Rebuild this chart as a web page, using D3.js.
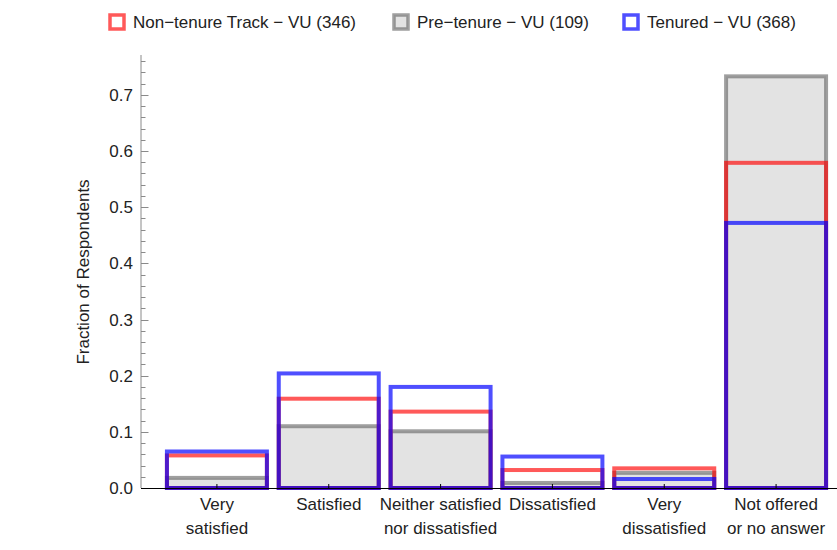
<!DOCTYPE html>
<html>
<head>
<meta charset="utf-8">
<script src="https://cdn.jsdelivr.net/npm/d3@7"></script>
<style>
  html, body { margin: 0; padding: 0; background: #fff; }
  svg { display: block; font-family: "Liberation Sans", Arial, sans-serif; }
</style>
</head>
<body>
<svg id="chart" width="837" height="550"></svg>
<script>
// ---- data ----
const categories = ["Very satisfied", "Satisfied", "Neither satisfied nor dissatisfied", "Dissatisfied", "Very dissatisfied", "Not offered or no answer"];
const categoryLines = [["Very", "satisfied"], ["Satisfied"], ["Neither satisfied", "nor dissatisfied"], ["Dissatisfied"], ["Very", "dissatisfied"], ["Not offered", "or no answer"]];
const seriesNames = ["Non\u2212tenure Track \u2212 VU (346)", "Pre\u2212tenure \u2212 VU (109)", "Tenured \u2212 VU (368)"];
const nonTenure = [0.058, 0.159, 0.136, 0.032, 0.035, 0.579];
const preTenure = [0.018, 0.110, 0.101, 0.009, 0.027, 0.733];
const tenured   = [0.065, 0.204, 0.180, 0.056, 0.016, 0.472];
const yTicks = [0.0, 0.1, 0.2, 0.3, 0.4, 0.5, 0.6, 0.7];

// ---- styles ----
const styles = [
  { stroke: "rgb(255,0,0)", strokeOpacity: 0.65, fill: "none" },
  { stroke: "rgb(100,100,100)", strokeOpacity: 0.62, fill: "#e3e3e3" },
  { stroke: "rgb(0,0,255)", strokeOpacity: 0.69, fill: "none" }
];
const series = [
  { name: seriesNames[0], values: nonTenure, style: styles[0], order: 1 },
  { name: seriesNames[1], values: preTenure, style: styles[1], order: 0 },
  { name: seriesNames[2], values: tenured, style: styles[2], order: 2 }
];

const svg = d3.select("#chart");
const FONT = 17;

const x = d3.scaleBand().domain(categories).range([161, 832]).paddingInner(0.106).paddingOuter(0.053);
const y = d3.scaleLinear().domain([0, 0.771]).range([488, 55]);

// bars: gray first, then red, then blue
const drawOrder = series.slice().sort((a, b) => a.order - b.order);
drawOrder.forEach(s => {
  svg.append("g").selectAll("rect")
    .data(categories.map((c, i) => ({ c, v: s.values[i] })))
    .join("rect")
    .attr("x", d => x(d.c))
    .attr("y", d => y(d.v))
    .attr("width", x.bandwidth())
    .attr("height", d => y(0) - y(d.v))
    .attr("fill", s.style.fill)
    .attr("stroke", s.style.stroke)
    .attr("stroke-opacity", s.style.strokeOpacity)
    .attr("stroke-width", 4);
});

// y axis
const yAxisG = svg.append("g").attr("transform", "translate(141,0)");
yAxisG.append("line").attr("x1", 0).attr("x2", 0).attr("y1", y(0)).attr("y2", 55)
  .attr("stroke", "#8a8a8a").attr("stroke-width", 1);
const minor = d3.range(0, 0.771, 0.02).filter(v => Math.abs(v * 10 - Math.round(v * 10)) > 1e-6);
yAxisG.selectAll("line.minor").data(minor).join("line").attr("class", "minor")
  .attr("x1", 0).attr("x2", 4.5).attr("y1", d => Math.round(y(d)) + 0.5).attr("y2", d => Math.round(y(d)) + 0.5)
  .attr("stroke", "#8a8a8a");
yAxisG.selectAll("line.major").data(yTicks).join("line").attr("class", "major")
  .attr("x1", 0).attr("x2", 7.5).attr("y1", d => Math.round(y(d)) + 0.5).attr("y2", d => Math.round(y(d)) + 0.5)
  .attr("stroke", "#8a8a8a");
yAxisG.selectAll("text").data(yTicks).join("text")
  .attr("x", -8).attr("y", d => y(d)).attr("dy", "0.36em")
  .attr("text-anchor", "end").attr("font-size", FONT).attr("fill", "#222")
  .text(d => d3.format(".1f")(d));

// y label
svg.append("text").attr("transform", "translate(89,272) rotate(-90)")
  .attr("text-anchor", "middle").attr("font-size", FONT).attr("fill", "#222")
  .text("Fraction of Respondents");

// x axis
svg.append("line").attr("x1", 141).attr("x2", 837).attr("y1", y(0) + 0.5).attr("y2", y(0) + 0.5)
  .attr("stroke", "#000").attr("stroke-width", 1.2);
svg.append("g").selectAll("line").data(categories).join("line")
  .attr("x1", d => x(d) + x.bandwidth() / 2).attr("x2", d => x(d) + x.bandwidth() / 2)
  .attr("y1", y(0)).attr("y2", y(0) - 4).attr("stroke", "#000");
const xl = svg.append("g").selectAll("text").data(categories).join("text")
  .attr("text-anchor", "middle").attr("font-size", FONT).attr("fill", "#222")
  .attr("x", d => x(d) + x.bandwidth() / 2);
xl.each(function(d, i) {
  const t = d3.select(this);
  categoryLines[i].forEach((ln, j) => {
    t.append("tspan").attr("x", x(d) + x.bandwidth() / 2).attr("y", 510 + j * 24).text(ln);
  });
});

// legend
const legendX = [117, 401, 631];
const legendOrder = [0, 1, 2];
const lg = svg.append("g");
legendOrder.forEach((si, k) => {
  const s = series[si];
  lg.append("rect").attr("x", legendX[k] - 7).attr("y", 15).attr("width", 14).attr("height", 14)
    .attr("fill", s.style.fill === "none" ? "#fff" : s.style.fill)
    .attr("stroke", s.style.stroke).attr("stroke-opacity", s.style.strokeOpacity).attr("stroke-width", 3.5);
  lg.append("text").attr("x", legendX[k] + 16).attr("y", 22).attr("dy", "0.36em")
    .attr("font-size", FONT).attr("fill", "#222").text(s.name);
});
</script>
</body>
</html>
